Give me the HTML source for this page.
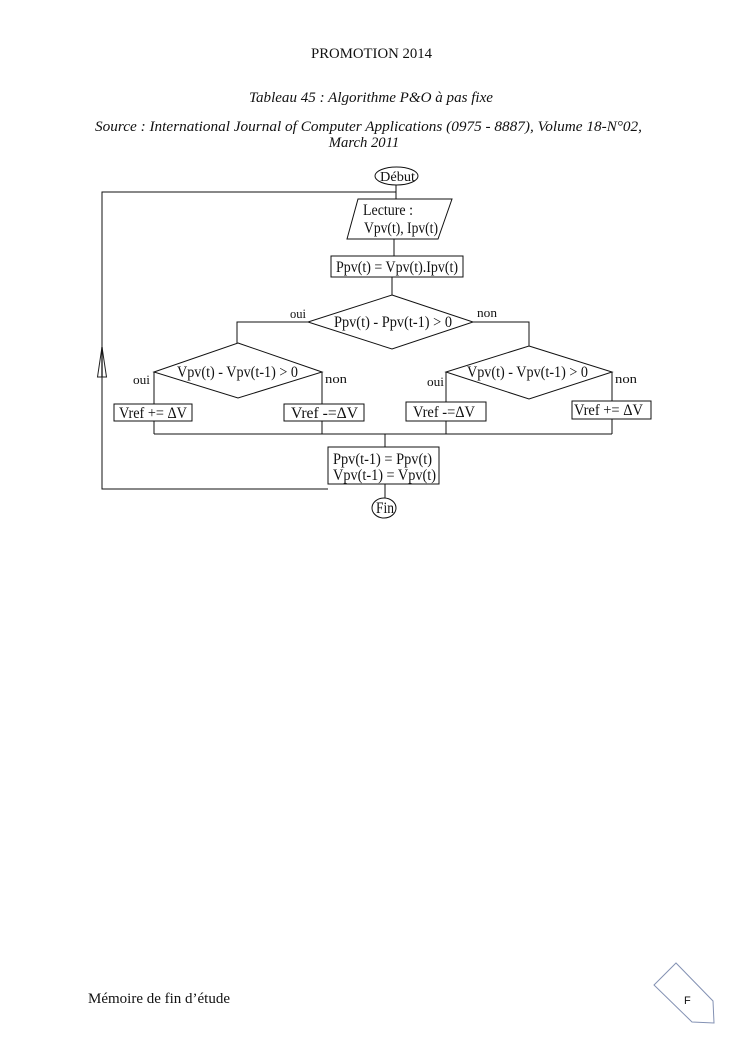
<!DOCTYPE html>
<html>
<head>
<meta charset="utf-8">
<style>
  html, body { margin: 0; padding: 0; background: #fff; }
  body { width: 745px; height: 1053px; overflow: hidden; }
  svg { display: block; }
  .t { font-family: "Liberation Serif", "DejaVu Serif", serif; fill: #111; }
</style>
</head>
<body>
<svg width="745" height="1053" viewBox="0 0 745 1053" xmlns="http://www.w3.org/2000/svg">
  <rect x="0" y="0" width="745" height="1053" fill="#fff"/>

  <!-- Header -->
  <text class="t" x="311" y="58" font-size="14.67" textLength="121" lengthAdjust="spacingAndGlyphs">PROMOTION 2014</text>
  <text class="t" x="249" y="102" font-size="14.67" font-style="italic" textLength="244" lengthAdjust="spacingAndGlyphs">Tableau 45 : Algorithme P&amp;O à pas fixe</text>
  <text class="t" x="95" y="131" font-size="14.67" font-style="italic" textLength="547" lengthAdjust="spacingAndGlyphs">Source : International Journal of Computer Applications (0975 - 8887), Volume 18-N°02,</text>
  <text class="t" x="364" y="147" font-size="14.67" font-style="italic" text-anchor="middle">March 2011</text>

  <!-- Flowchart -->
  <g stroke="#111" stroke-width="1" fill="none">
    <ellipse cx="396.5" cy="176" rx="21.5" ry="9"/>
    <line x1="396" y1="185" x2="396" y2="199"/>
    <polyline points="396,192 102,192 102,489 328,489"/>
    <polygon points="358,199 452,199 438,239 347,239"/>
    <line x1="394" y1="239" x2="394" y2="256"/>
    <rect x="331" y="256" width="132" height="21"/>
    <line x1="392" y1="277" x2="392" y2="295"/>
    <polygon points="392,295 473,322 392,349 308,322"/>
    <polyline points="308,322 237,322 237,343"/>
    <polyline points="473,322 529,322 529,346"/>
    <polygon points="238,343 322,372 238,398 154,372"/>
    <polygon points="529,346 612,372 529,399 446,372"/>
    <line x1="154" y1="372" x2="154" y2="404"/>
    <rect x="114" y="404" width="78" height="17"/>
    <line x1="154" y1="421" x2="154" y2="434"/>
    <line x1="322" y1="372" x2="322" y2="404"/>
    <rect x="284" y="404" width="80" height="17"/>
    <line x1="322" y1="421" x2="322" y2="434"/>
    <line x1="446" y1="372" x2="446" y2="402"/>
    <rect x="406" y="402" width="80" height="19"/>
    <line x1="446" y1="421" x2="446" y2="434"/>
    <line x1="612" y1="372" x2="612" y2="401"/>
    <rect x="572" y="401" width="79" height="18"/>
    <line x1="612" y1="419" x2="612" y2="434"/>
    <line x1="154" y1="434" x2="612" y2="434"/>
    <line x1="385" y1="434" x2="385" y2="447"/>
    <rect x="328" y="447" width="111" height="37"/>
    <line x1="385" y1="484" x2="385" y2="498"/>
    <ellipse cx="384" cy="508" rx="12" ry="10"/>
  </g>
  <polygon points="102,347 97.5,377 106.5,377" fill="#fff" stroke="#222" stroke-width="1"/>
  <line x1="102" y1="347" x2="102" y2="377" stroke="#111" stroke-width="1.3"/>

  <!-- Flowchart text -->
  <g class="t" font-size="15.5">
    <text class="t" x="380" y="181" font-size="14" textLength="35" lengthAdjust="spacingAndGlyphs">Début</text>
    <text class="t" x="363" y="215" textLength="50" lengthAdjust="spacingAndGlyphs">Lecture :</text>
    <text class="t" x="364" y="233" textLength="74" lengthAdjust="spacingAndGlyphs">Vpv(t), Ipv(t)</text>
    <text class="t" x="336" y="272" textLength="122" lengthAdjust="spacingAndGlyphs">Ppv(t) = Vpv(t).Ipv(t)</text>
    <text class="t" x="334" y="327" textLength="118" lengthAdjust="spacingAndGlyphs">Ppv(t) - Ppv(t-1) &gt; 0</text>
    <text class="t" x="290" y="318" font-size="13" textLength="16" lengthAdjust="spacingAndGlyphs">oui</text>
    <text class="t" x="477" y="317" font-size="13" textLength="20" lengthAdjust="spacingAndGlyphs">non</text>

    <text class="t" x="177" y="377" textLength="121" lengthAdjust="spacingAndGlyphs">Vpv(t) - Vpv(t-1) &gt; 0</text>
    <text class="t" x="133" y="384" font-size="13" textLength="17" lengthAdjust="spacingAndGlyphs">oui</text>
    <text class="t" x="325" y="383" font-size="13" textLength="22" lengthAdjust="spacingAndGlyphs">non</text>

    <text class="t" x="467" y="377" textLength="121" lengthAdjust="spacingAndGlyphs">Vpv(t) - Vpv(t-1) &gt; 0</text>
    <text class="t" x="427" y="386" font-size="13" textLength="17" lengthAdjust="spacingAndGlyphs">oui</text>
    <text class="t" x="615" y="383" font-size="13" textLength="22" lengthAdjust="spacingAndGlyphs">non</text>

    <text class="t" x="119" y="418" textLength="68" lengthAdjust="spacingAndGlyphs">Vref += ΔV</text>
    <text class="t" x="291" y="418" textLength="67" lengthAdjust="spacingAndGlyphs">Vref -=ΔV</text>
    <text class="t" x="413" y="417" textLength="62" lengthAdjust="spacingAndGlyphs">Vref -=ΔV</text>
    <text class="t" x="574" y="415" textLength="69" lengthAdjust="spacingAndGlyphs">Vref += ΔV</text>

    <text class="t" x="333" y="464" textLength="99" lengthAdjust="spacingAndGlyphs">Ppv(t-1) = Ppv(t)</text>
    <text class="t" x="333" y="480" textLength="103" lengthAdjust="spacingAndGlyphs">Vpv(t-1) = Vpv(t)</text>
    <text class="t" x="376" y="513" textLength="18" lengthAdjust="spacingAndGlyphs">Fin</text>
  </g>

  <!-- Footer -->
  <text class="t" x="88" y="1003" font-size="14.67" textLength="142" lengthAdjust="spacingAndGlyphs">Mémoire de fin d’étude</text>
  <polygon points="676,963 654,985 692,1022 714,1023 713,1001" fill="#fff" stroke="#8391b3" stroke-width="1"/>
  <text x="684" y="1004" font-family="Liberation Sans, DejaVu Sans, sans-serif" font-size="11" fill="#111">F</text>
</svg>
</body>
</html>
